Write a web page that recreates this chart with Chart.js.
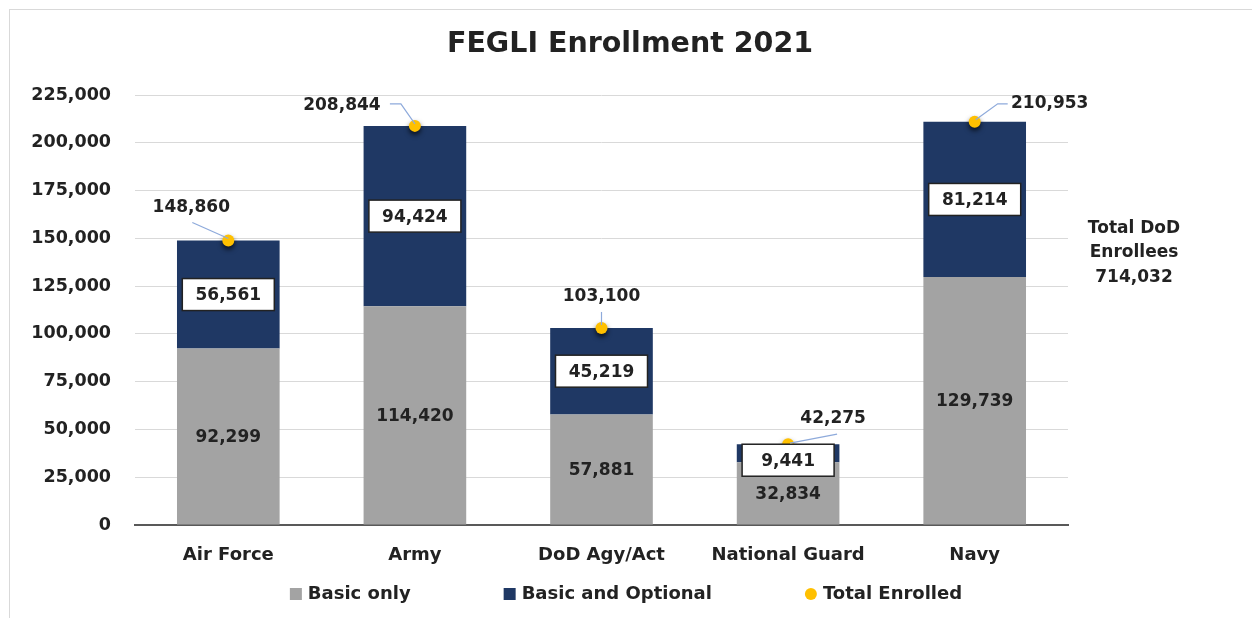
<!DOCTYPE html>
<html lang="en">
<head>
    <meta charset="UTF-8">
    <title>FEGLI Enrollment 2021</title>
    <script src="https://cdn.jsdelivr.net/npm/chart.js"></script>
    <style>
        body {
            margin: 0;
            background-color: white;
        }
        .wrap {
            position: relative;
            width: 1252px;
            height: 618px;
            overflow: hidden;
        }
        .frame {
            position: absolute;
            left: 9px;
            top: 9px;
            width: 1300px;
            height: 640px;
            border: 1px solid #d9d9d9;
        }
        canvas {
            position: absolute;
            left: 0;
            top: 0;
        }
    </style>
</head>
<body>
    <div class="wrap">
        <div class="frame"></div>
        <canvas id="feglChart" width="1252" height="618"></canvas>
    </div>
    <script>
        // data
        const categories = ['Air Force', 'Army', 'DoD Agy/Act', 'National Guard', 'Navy'];
        const basicOnly = [92299, 114420, 57881, 32834, 129739];
        const basicOptional = [56561, 94424, 45219, 9441, 81214];
        const totalEnrolled = [148860, 208844, 103100, 42275, 210953];
        const yTicks = [0, 25000, 50000, 75000, 100000, 125000, 150000, 175000, 200000, 225000];
        const chartTitle = 'FEGLI Enrollment 2021';

        const FONT = "'DejaVu Sans', Verdana, sans-serif";
        const TEXT = '#222222';
        const GRAY = '#a3a3a3';
        const NAVY = '#1f3864';
        const GOLD = '#ffc000';

        // where the total labels sit relative to their point, plus leader line path
        const totalLabelPos = [
            { dx: -37, dy: -33, path: [[-36, -18], [0, -2]] },
            { dx: -73, dy: -20, path: [[-25, -22], [-14, -22], [0, -2]] },
            { dx: 0, dy: -31, path: [[0, -16], [0, -3]] },
            { dx: 45, dy: -26, path: [[49, -10], [2, -1]] },
            { dx: 75, dy: -18, path: [[33, -18], [23, -18], [1, -2]] }
        ];
        const boxShift = [0, 0, 0, 7, 0];

        const fmt = v => v.toLocaleString('en-US');

        const labelPlugin = {
            id: 'labels',
            beforeDatasetDraw(chart, args) {
                if (args.index === 2) {
                    const ctx = chart.ctx;
                    ctx.save();
                    ctx.shadowColor = 'rgba(0,0,0,0.7)';
                    ctx.shadowBlur = 5;
                    ctx.shadowOffsetY = 3;
                }
            },
            afterDatasetDraw(chart, args) {
                if (args.index === 2) chart.ctx.restore();
            },
            afterDatasetsDraw(chart) {
                const ctx = chart.ctx;
                const grayBars = chart.getDatasetMeta(0).data;
                const navyBars = chart.getDatasetMeta(1).data;
                const points = chart.getDatasetMeta(2).data;

                ctx.save();
                ctx.font = 'bold 17px ' + FONT;
                ctx.textAlign = 'center';
                ctx.textBaseline = 'middle';

                // gray segment values
                grayBars.forEach((bar, i) => {
                    ctx.fillStyle = TEXT;
                    ctx.fillText(fmt(basicOnly[i]), bar.x, (bar.y + bar.base) / 2 + 1);
                });

                // navy segment values in white boxes
                navyBars.forEach((bar, i) => {
                    const cy = (bar.y + bar.base) / 2 + boxShift[i];
                    const w = 92, h = 32;
                    ctx.fillStyle = 'white';
                    ctx.fillRect(bar.x - w / 2, cy - h / 2, w, h);
                    ctx.strokeStyle = TEXT;
                    ctx.lineWidth = 1.5;
                    ctx.strokeRect(bar.x - w / 2, cy - h / 2, w, h);
                    ctx.fillStyle = TEXT;
                    ctx.fillText(fmt(basicOptional[i]), bar.x, cy + 1);
                });

                // totals with leader lines
                points.forEach((pt, i) => {
                    const p = totalLabelPos[i];
                    ctx.strokeStyle = '#8eaadb';
                    ctx.lineWidth = 1.2;
                    ctx.beginPath();
                    p.path.forEach((q, k) => {
                        if (k === 0) ctx.moveTo(pt.x + q[0], pt.y + q[1]);
                        else ctx.lineTo(pt.x + q[0], pt.y + q[1]);
                    });
                    ctx.stroke();
                    ctx.fillStyle = TEXT;
                    ctx.fillText(fmt(totalEnrolled[i]), pt.x + p.dx, pt.y + p.dy);
                });

                // side note
                const grand = totalEnrolled.reduce((a, b) => a + b, 0);
                const sx = chart.chartArea.right + 66;
                ctx.fillText('Total DoD', sx, 229);
                ctx.fillText('Enrollees', sx, 253);
                ctx.fillText(fmt(grand), sx, 278);
                ctx.restore();
            },
            afterDraw(chart) {
                const ctx = chart.ctx;
                ctx.save();

                // title, centred on the whole picture
                ctx.font = 'bold 28.5px ' + FONT;
                ctx.textAlign = 'center';
                ctx.textBaseline = 'middle';
                ctx.fillStyle = TEXT;
                ctx.fillText(chartTitle, 630, 45);

                // legend
                const items = chart.data.datasets.map(ds => ({ text: ds.label, color: ds.backgroundColor, round: ds.type === 'line' }));
                ctx.font = 'bold 18px ' + FONT;
                ctx.textAlign = 'left';
                const gap = 93, mark = 12, sp = 6;
                let total = 0;
                items.forEach(it => { it.w = mark + sp + ctx.measureText(it.text).width; total += it.w; });
                total += gap * (items.length - 1);
                let x = 626 - total / 2;
                const y = 593;
                items.forEach(it => {
                    ctx.fillStyle = it.round ? GOLD : it.color;
                    if (it.round) {
                        ctx.beginPath();
                        ctx.arc(x + mark / 2, y + 1, 6, 0, Math.PI * 2);
                        ctx.fill();
                    } else {
                        ctx.fillRect(x, y - 5, mark, mark);
                    }
                    ctx.fillStyle = TEXT;
                    ctx.fillText(it.text, x + mark + sp, y + 1);
                    x += it.w + gap;
                });
                ctx.restore();
            }
        };

        const ctx = document.getElementById('feglChart').getContext('2d');
        new Chart(ctx, {
            type: 'bar',
            data: {
                labels: categories,
                datasets: [
                    {
                        label: 'Basic only',
                        data: basicOnly,
                        backgroundColor: GRAY,
                        order: 1,
                        barPercentage: 0.55,
                        categoryPercentage: 1
                    },
                    {
                        label: 'Basic and Optional',
                        data: basicOptional,
                        backgroundColor: NAVY,
                        order: 1,
                        barPercentage: 0.55,
                        categoryPercentage: 1
                    },
                    {
                        type: 'line',
                        label: 'Total Enrolled',
                        data: totalEnrolled,
                        stack: 'total',
                        showLine: false,
                        order: 0,
                        backgroundColor: GOLD,
                        borderColor: GOLD,
                        pointRadius: 6,
                        pointBorderWidth: 0
                    }
                ]
            },
            options: {
                responsive: false,
                animation: false,
                devicePixelRatio: 1,
                layout: {
                    padding: { left: 10, right: 184, top: 95, bottom: 43 }
                },
                scales: {
                    x: {
                        stacked: true,
                        grid: { display: false },
                        border: { color: '#595959', width: 2 },
                        ticks: {
                            color: TEXT,
                            padding: 12,
                            font: { family: FONT, size: 18, weight: 'bold' }
                        },
                        afterFit(scale) { scale.height = 50; }
                    },
                    y: {
                        stacked: true,
                        min: 0,
                        max: 225000,
                        afterBuildTicks(scale) { scale.ticks = yTicks.map(v => ({ value: v })); },
                        grid: { color: '#d9d9d9', lineWidth: 1, drawTicks: false },
                        border: { display: false },
                        ticks: {
                            color: TEXT,
                            padding: 24,
                            font: { family: FONT, size: 17.5, weight: 'bold' },
                            callback: v => fmt(v)
                        },
                        afterFit(scale) { scale.width = 125; }
                    }
                },
                plugins: {
                    legend: { display: false },
                    tooltip: { enabled: false },
                    title: { display: false }
                }
            },
            plugins: [labelPlugin]
        });
    </script>
</body>
</html>
